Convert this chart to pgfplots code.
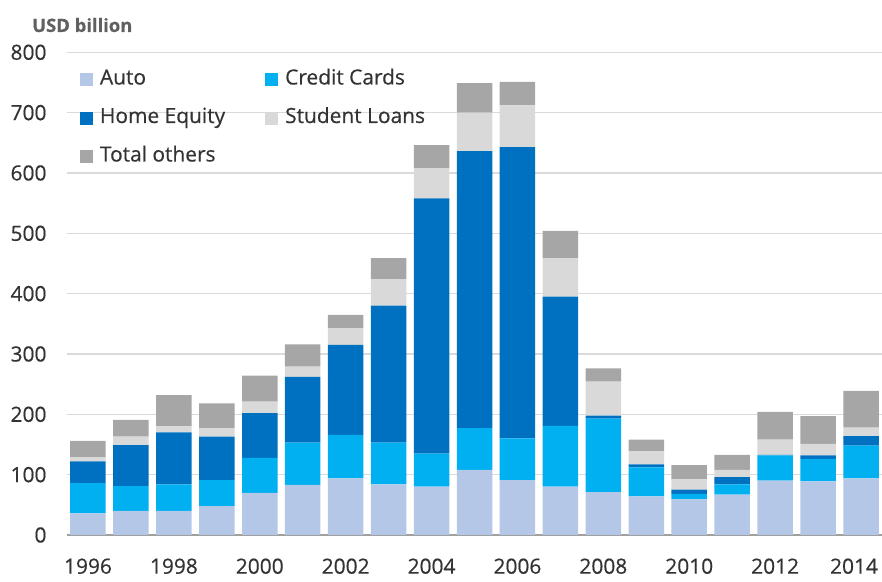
\documentclass[border=0pt]{standalone}
\usepackage{fontspec}
\setmainfont{Open Sans}[FakeBold=0.5]
\usepackage{pgfplots}
\usepackage{pgfplotstable}
\pgfplotsset{compat=1.18}
\definecolor{cAuto}{HTML}{B4C7E7}
\definecolor{cCC}{HTML}{00B0F0}
\definecolor{cHE}{HTML}{0070C0}
\definecolor{cSL}{HTML}{D9D9D9}
\definecolor{cOT}{HTML}{A6A6A6}
\definecolor{cGrid}{HTML}{DADADA}
\definecolor{cAxis}{HTML}{A0A0A0}
\definecolor{cText}{HTML}{333333}
\definecolor{cTitle}{HTML}{606060}
\pgfplotsset{sqlegend/.style={legend image code/.code={\fill[##1, draw=none] (0bp,-6.5bp) rectangle (13bp,6.5bp);}}}

\pgfplotstableread{
year auto cc he sl ot
1996 36 50 36 7 27
1997 40 41 68 14 28
1998 40 44 86 10 52
1999 48 43 72 14 41
2000 70 58 74 19 43
2001 83 70 109 17 37
2002 94 72 149 28 22
2003 84 69 227 44 35
2004 80 55 423 50 38
2005 108 69 459 64 49
2006 91 69 483 69 39
2007 80 101 214 64 45
2008 71 122 5 56 22
2009 64 48 5 22 19
2010 59 9 7 17 24
2011 67 17 12 12 25
2012 90 42 1 25 46
2013 89 37 6 19 46
2014 94 54 16 14 61
}\datatable

\begin{document}
\begin{tikzpicture}
\path[use as bounding box] (0,0) rectangle (882bp,582bp);
\begin{axis}[
  at={(66.5bp,47bp)}, anchor=south west,
  scale only axis, width=816bp, height=482.7bp,
  ybar stacked, bar width=35.5bp,
  xmin=1995.5, xmax=2014.5, ymin=0, ymax=800,
  xtick={1996,1998,...,2014}, ytick={0,100,...,800},
  xticklabels={1996,1998,2000,2002,2004,2006,2008,2010,2012,{2014\hspace*{14bp}}},
  /pgf/number format/1000 sep={}, /pgf/number format/assume math mode=true,
  tick style={draw=none}, major tick length=0pt,
  axis line style={draw=none},
  ymajorgrids, grid style={cGrid, line width=1.2bp},
  extra y ticks={0}, extra y tick labels={},
  extra y tick style={grid style={cAxis, line width=1.5bp}},
  tick label style={font=\fontsize{21}{25}\selectfont, text=cText},
  yticklabel style={xshift=-16.5bp},
  xticklabel style={yshift=-20bp},
  legend columns=2, legend cell align=left,
  legend style={draw=none, fill=none, at={(0.0165,0.9623)}, anchor=north west,
    inner sep=0pt, outer sep=0pt, font=\fontsize{21}{25}\selectfont, text=cText,
    nodes={inner sep=0pt, text height=14bp, text depth=5bp},
    row sep=19.5bp, column sep=7bp, /tikz/column 2/.style={column sep=40bp}},
]
\addplot[fill=cAuto, draw=none, sqlegend] table[x=year,y=auto]{\datatable};
\addplot[fill=cCC, draw=none, sqlegend] table[x=year,y=cc]{\datatable};
\addplot[fill=cHE, draw=none, sqlegend] table[x=year,y=he]{\datatable};
\addplot[fill=cSL, draw=none, sqlegend] table[x=year,y=sl]{\datatable};
\addplot[fill=cOT, draw=none, sqlegend] table[x=year,y=ot]{\datatable};
\legend{Auto, Credit Cards, Home Equity, Student Loans, Total others}
\end{axis}
\node[anchor=base west, font=\bfseries\fontsize{18.5}{22}\selectfont, text=cTitle, inner sep=0pt] at (32bp,550bp) {USD billion};
\end{tikzpicture}
\end{document}
